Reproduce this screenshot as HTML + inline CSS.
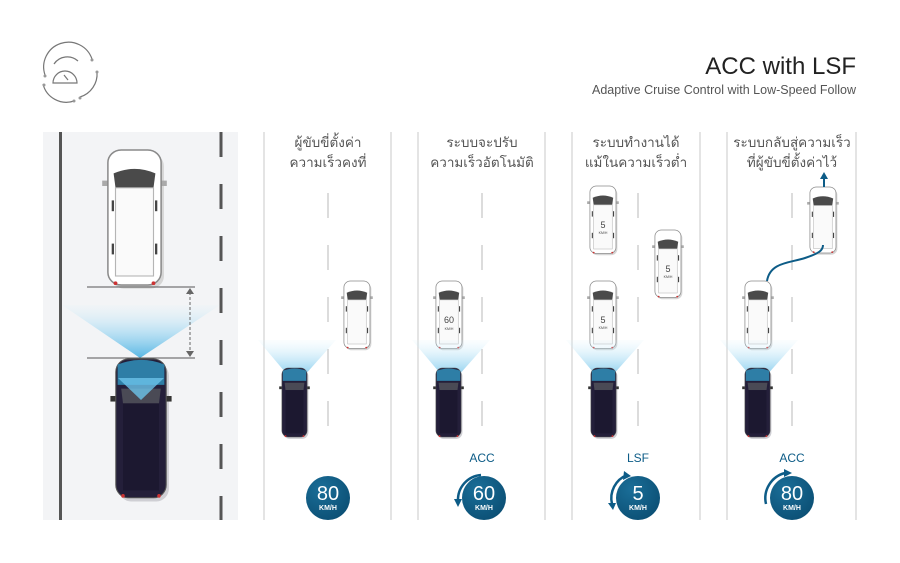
<!DOCTYPE html>
<html><head><meta charset="utf-8"><style>
html,body{margin:0;padding:0;background:#fff;}
svg{display:block;}
.th{font-family:"Liberation Sans","Noto Sans CJK SC",sans-serif;font-size:13.5px;fill:#555;text-anchor:middle;}
.n{font-family:"Liberation Sans",sans-serif;fill:#fff;text-anchor:middle;}
</style></head><body>
<svg width="900" height="563" viewBox="0 0 900 563" xmlns="http://www.w3.org/2000/svg">
<defs>
 <linearGradient id="beam" x1="0" y1="0" x2="0" y2="1">
  <stop offset="0" stop-color="#d6f0fb" stop-opacity="0.1"/>
  <stop offset="0.5" stop-color="#9ad6f2" stop-opacity="0.6"/>
  <stop offset="1" stop-color="#4fb3e3" stop-opacity="0.95"/>
 </linearGradient>
 <radialGradient id="cg" cx="0.35" cy="0.3" r="0.8">
  <stop offset="0" stop-color="#1a6e98"/><stop offset="1" stop-color="#0b4e73"/>
 </radialGradient>
 <g id="wcar">
  <rect x="2.5" y="2" width="28" height="75" rx="7" fill="#d6d6d6"/>
  <rect x="-2" y="17" width="4" height="3" fill="#aaa"/><rect x="28" y="17" width="4" height="3" fill="#aaa"/>
  <rect x="1" y="0" width="28" height="75" rx="7" fill="#fff" stroke="#8a8a8a" stroke-width="0.8"/>
  <path d="M4 13 Q15 8 26 13 L25 21 L5 21 Z" fill="#4a4a4a"/>
  <rect x="5" y="21" width="20" height="49" fill="#fafafa" stroke="#b5b5b5" stroke-width="0.6"/>
  <rect x="3" y="28" width="1.2" height="6" fill="#444"/><rect x="25.8" y="28" width="1.2" height="6" fill="#444"/>
  <rect x="3" y="52" width="1.2" height="6" fill="#444"/><rect x="25.8" y="52" width="1.2" height="6" fill="#444"/>
  <circle cx="5" cy="74" r="1" fill="#c33"/><circle cx="25" cy="74" r="1" fill="#c33"/>
 </g>
 <g id="dcar">
  <rect x="2.5" y="2" width="28" height="75" rx="7" fill="#cfcfd4"/>
  <rect x="-2" y="20" width="4" height="3" fill="#333"/><rect x="28" y="20" width="4" height="3" fill="#333"/>
  <rect x="1" y="0" width="28" height="75" rx="7" fill="#241f3a" stroke="#555" stroke-width="0.6"/>
  <path d="M2 3 Q15 -2 28 3 L28 14 L2 14 Z" fill="#2e7ea6"/>
  <path d="M4 16 L26 16 L25 24 L5 24 Z" fill="#4a4a55"/>
  <rect x="5" y="24" width="20" height="47" fill="#1c1830"/>
  <circle cx="5" cy="74" r="1" fill="#c33"/><circle cx="25" cy="74" r="1" fill="#c33"/>
 </g>
</defs>

<!-- icon -->
<g fill="none" stroke="#777" stroke-width="1.2">
 <path d="M45 75 A24 24 0 0 1 92 59"/>
 <path d="M97 72 A24 24 0 0 1 80 97"/>
 <path d="M43 84 A24 24 0 0 0 74 101"/>
 <path d="M54 64 A16 16 0 0 1 78 61"/>
 <path d="M53 83 A12 12 0 0 1 77 83 Z"/>
 <path d="M64 75 L68 80"/>
</g>
<g fill="#999"><circle cx="45" cy="76" r="1.5"/><circle cx="92" cy="60" r="1.5"/><circle cx="97" cy="72" r="1.5"/><circle cx="80" cy="98" r="1.5"/><circle cx="74" cy="101" r="1.5"/><circle cx="44" cy="85" r="1.5"/></g>

<!-- header -->
<text x="856" y="74" font-family="Liberation Sans,sans-serif" font-size="24" fill="#222" text-anchor="end">ACC with LSF</text>
<text x="856" y="94" font-family="Liberation Sans,sans-serif" font-size="12.5" fill="#555" text-anchor="end">Adaptive Cruise Control with Low-Speed Follow</text>

<!-- panel 1 road -->
<rect x="43" y="132" width="195" height="388" fill="#f3f4f6"/>
<rect x="59" y="132" width="3" height="388" fill="#555"/>
<line x1="221" y1="132" x2="221" y2="520" stroke="#555" stroke-width="3" stroke-dasharray="25 27"/>

<!-- separators -->
<g stroke="#dcdcdc" stroke-width="1.5">
 <line x1="264" y1="132" x2="264" y2="520"/><line x1="391" y1="132" x2="391" y2="520"/>
 <line x1="418" y1="132" x2="418" y2="520"/><line x1="545" y1="132" x2="545" y2="520"/>
 <line x1="572" y1="132" x2="572" y2="520"/><line x1="700" y1="132" x2="700" y2="520"/>
 <line x1="727" y1="132" x2="727" y2="520"/><line x1="856" y1="132" x2="856" y2="520"/>
</g>
<g stroke="#d0d0d0" stroke-width="1.5" stroke-dasharray="25 27">
 <line x1="328" y1="193" x2="328" y2="432"/><line x1="482" y1="193" x2="482" y2="432"/>
 <line x1="638" y1="193" x2="638" y2="432"/><line x1="792" y1="193" x2="792" y2="432"/>
</g>

<!-- titles -->
<text class="th" x="328" y="147">ผู้ขับขี่ตั้งค่า</text><text class="th" x="328" y="167">ความเร็วคงที่</text>
<text class="th" x="482" y="147">ระบบจะปรับ</text><text class="th" x="482" y="167">ความเร็วอัตโนมัติ</text>
<text class="th" x="636" y="147">ระบบทำงานได้</text><text class="th" x="636" y="167">แม้ในความเร็วต่ำ</text>
<text class="th" x="792" y="147">ระบบกลับสู่ความเร็ว</text><text class="th" x="792" y="167">ที่ผู้ขับขี่ตั้งค่าไว้</text>

<!-- big cars -->
<use href="#wcar" transform="translate(106,150) scale(1.9,1.8)"/>
<polygon points="62,305 220,305 140,358" fill="url(#beam)"/>
<line x1="87" y1="287" x2="195" y2="287" stroke="#555" stroke-width="1"/>
<line x1="87" y1="358" x2="195" y2="358" stroke="#555" stroke-width="1"/>
<line x1="190" y1="292" x2="190" y2="353" stroke="#666" stroke-width="1" stroke-dasharray="3 2"/>
<polygon points="186,294 194,294 190,288" fill="#666"/><polygon points="186,351 194,351 190,357" fill="#666"/>
<use href="#dcar" transform="translate(114,359) scale(1.8,1.85)"/>
<polygon points="118,378 164,378 141,400" fill="#6cc3ea" opacity="0.8"/>

<!-- panel small cars -->
<use href="#wcar" transform="translate(343,281) scale(0.93,0.9)"/>
<use href="#wcar" transform="translate(435,281) scale(0.93,0.9)"/>
<text x="449" y="323" font-family="Liberation Sans,sans-serif" font-size="9" fill="#444" text-anchor="middle">60</text>
<text x="449" y="330" font-family="Liberation Sans,sans-serif" font-size="3.5" fill="#444" text-anchor="middle">KM/H</text>
<use href="#wcar" transform="translate(589,186) scale(0.93,0.9)"/>
<use href="#wcar" transform="translate(654,230) scale(0.93,0.9)"/>
<use href="#wcar" transform="translate(589,281) scale(0.93,0.9)"/>
<g font-family="Liberation Sans,sans-serif" fill="#444" text-anchor="middle">
 <text x="603" y="228" font-size="9">5</text><text x="603" y="234" font-size="3.5">KM/H</text>
 <text x="668" y="272" font-size="9">5</text><text x="668" y="278" font-size="3.5">KM/H</text>
 <text x="603" y="323" font-size="9">5</text><text x="603" y="329" font-size="3.5">KM/H</text>
</g>
<use href="#wcar" transform="translate(744,281) scale(0.93,0.9)"/>
<use href="#wcar" transform="translate(809,187) scale(0.93,0.88)"/>
<path d="M767 281 C770 262,790 263,805 258 S823 250,823 245" fill="none" stroke="#0d5c87" stroke-width="2"/>
<line x1="824" y1="187" x2="824" y2="178" stroke="#0d5c87" stroke-width="2"/>
<polygon points="820,179 828,179 824,172" fill="#0d5c87"/>

<!-- beams + dark cars -->
<g>
 <polygon points="258,340 336,340 296,385" fill="url(#beam)"/>
 <use href="#dcar" transform="translate(281,368) scale(0.9,0.92)"/>
 <polygon points="412,340 490,340 450,385" fill="url(#beam)"/>
 <use href="#dcar" transform="translate(435,368) scale(0.9,0.92)"/>
 <polygon points="566,340 644,340 604,385" fill="url(#beam)"/>
 <use href="#dcar" transform="translate(590,368) scale(0.9,0.92)"/>
 <polygon points="720,340 798,340 758,385" fill="url(#beam)"/>
 <use href="#dcar" transform="translate(744,368) scale(0.9,0.92)"/>
</g>

<!-- speed circles -->
<circle cx="328" cy="498" r="22" fill="url(#cg)"/>
<text class="n" x="328" y="500" font-size="20">80</text><text class="n" x="328" y="510" font-size="7" font-weight="bold">KM/H</text>

<text x="482" y="462" font-family="Liberation Sans,sans-serif" font-size="12" fill="#0d5c87" text-anchor="middle">ACC</text>
<circle cx="484" cy="498" r="22" fill="url(#cg)"/>
<path d="M481 475 A25 25 0 0 0 458 501" fill="none" stroke="#0d5c87" stroke-width="2.5"/>
<polygon points="454,499 462,499 458,507" fill="#0d5c87"/>
<text class="n" x="484" y="500" font-size="20">60</text><text class="n" x="484" y="510" font-size="7" font-weight="bold">KM/H</text>

<text x="638" y="462" font-family="Liberation Sans,sans-serif" font-size="12" fill="#0d5c87" text-anchor="middle">LSF</text>
<circle cx="638" cy="498" r="22" fill="url(#cg)"/>
<path d="M627 475 A25 25 0 0 0 612 504" fill="none" stroke="#0d5c87" stroke-width="2.5"/>
<polygon points="624,471 631,476 623,480" fill="#0d5c87"/>
<polygon points="608,503 616,503 613,510" fill="#0d5c87"/>
<text class="n" x="638" y="500" font-size="20">5</text><text class="n" x="638" y="510" font-size="7" font-weight="bold">KM/H</text>

<text x="792" y="462" font-family="Liberation Sans,sans-serif" font-size="12" fill="#0d5c87" text-anchor="middle">ACC</text>
<circle cx="792" cy="498" r="22" fill="url(#cg)"/>
<path d="M766 504 A26 26 0 0 1 785 473" fill="none" stroke="#0d5c87" stroke-width="2.5"/>
<polygon points="784,469 792,473 784,477" fill="#0d5c87"/>
<text class="n" x="792" y="500" font-size="20">80</text><text class="n" x="792" y="510" font-size="7" font-weight="bold">KM/H</text>
</svg>
</body></html>
